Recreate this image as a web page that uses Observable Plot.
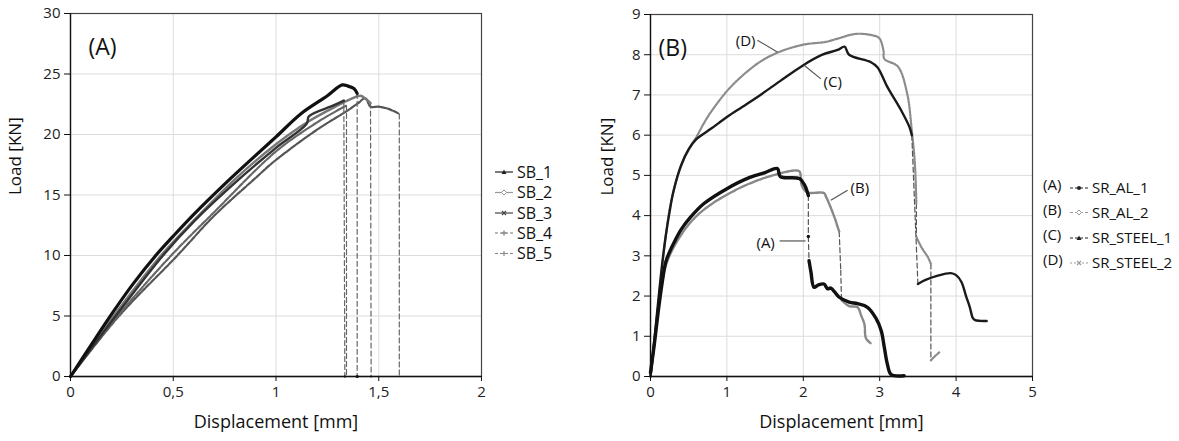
<!DOCTYPE html>
<html><head><meta charset="utf-8">
<script src="https://cdn.jsdelivr.net/npm/d3@7"></script>
<script src="https://cdn.jsdelivr.net/npm/@observablehq/plot@0.6"></script>
<style>
body{margin:0;background:#fff;font-family:"Open Sans",sans-serif;}
#wrap{position:relative;width:1179px;height:441px;overflow:hidden;background:#fff}
.panel{position:absolute;top:0}
#leg{position:absolute;left:0;top:0}
</style></head><body><div id="wrap"></div>
<script>
// ---------- Panel A data: [displacement mm, load kN, jump flag] ----------
const sbNames = ["SB_1","SB_2","SB_3","SB_4","SB_5"];
const sb1 = [[0,0],[0.1,2.6],[0.2,5.15],[0.3,7.55],[0.42,10.1],[0.5,11.6],[0.6,13.4],[0.75,15.9],[0.877,17.9],[1.0,19.8],[1.12,21.7],[1.25,23.2],[1.322,24.1],[1.35,24.0],[1.379,23.8],[1.395,23.4],[1.395,0,1]];
const sb2 = [[0,0],[0.21,5],[0.44,10],[0.6,12.9],[0.8,16.3],[1.0,19.2],[1.15,21.0],[1.3,22.4],[1.36,22.9],[1.411,23.2],[1.44,22.9],[1.46,22.6],[1.463,0,1]];
const sb3 = [[0,0],[0.22,5],[0.45,10],[0.6,12.8],[0.8,16.0],[1.0,18.9],[1.15,20.9],[1.16,21.5],[1.28,22.4],[1.33,22.8],[1.335,0,1]];
const sb4 = [[0,0],[0.236,5],[0.52,10],[0.7,13.3],[0.9,16.4],[1.0,17.9],[1.2,20.4],[1.35,22.0],[1.4,22.6],[1.435,23.0],[1.46,22.3],[1.5,22.3],[1.55,22.1],[1.6,21.7],[1.6,0,1]];
const sb5 = [[0,0],[0.23,5],[0.49,10],[0.7,13.6],[1.0,18.6],[1.2,21.0],[1.3,22.0],[1.343,22.4],[1.343,0,1]];
const xTicksA = [0,0.5,1,1.5,2];
const yTicksA = [0,5,10,15,20,25,30];

// ---------- Panel B data ----------
const srNames = ["SR_AL_1","SR_AL_2","SR_STEEL_1","SR_STEEL_2"];
const srTags = ["(A)","(B)","(C)","(D)"];
const srAl1 = [[0,0.1],[0.05,0.8],[0.1,1.6],[0.15,2.3],[0.2,2.85],[0.25,3.1],[0.3,3.3],[0.4,3.65],[0.524,3.96],[0.7,4.3],[1.0,4.67],[1.3,4.95],[1.5,5.07],[1.66,5.17],[1.7,4.97],[1.95,4.92],[2.02,4.75],[2.066,4.5],[2.066,3.48,1],[2.075,2.88,1],[2.1,2.6],[2.14,2.22],[2.2,2.28],[2.27,2.3],[2.32,2.18],[2.36,2.2],[2.47,1.97],[2.6,1.85],[2.71,1.81],[2.84,1.72],[2.95,1.45],[3.02,1.14],[3.06,0.73],[3.1,0.31],[3.15,0.05],[3.32,0.02]];
const srAl2 = [[0,0],[0.05,0.8],[0.1,1.6],[0.15,2.3],[0.2,2.75],[0.3,3.2],[0.5,3.78],[0.7,4.15],[1.0,4.52],[1.3,4.8],[1.6,5.0],[1.88,5.12],[1.95,5.1],[1.98,4.75],[2.05,4.58],[2.27,4.56],[2.3,4.46],[2.4,4.0],[2.47,3.6],[2.49,2.64,1],[2.5,1.9,1],[2.6,1.75],[2.71,1.72],[2.76,1.5],[2.8,1.3],[2.82,0.95],[2.88,0.83]];
const srSt1 = [[0,0],[0.05,0.9],[0.1,1.85],[0.15,2.75],[0.2,3.5],[0.25,4.1],[0.3,4.6],[0.4,5.25],[0.5,5.65],[0.6,5.9],[0.8,6.17],[1.0,6.45],[1.2,6.7],[1.4,6.95],[1.7,7.35],[2.0,7.74],[2.25,8.0],[2.45,8.12],[2.54,8.2],[2.6,8.0],[2.88,7.82],[2.97,7.69],[3.1,7.2],[3.28,6.62],[3.39,6.2],[3.42,6.0],[3.5,2.3,1],[3.6,2.4],[3.75,2.5],[3.93,2.57],[4.0,2.52],[4.07,2.35],[4.13,2.0],[4.18,1.72],[4.22,1.45],[4.25,1.4],[4.4,1.38]];
const srSt2 = [[0,0],[0.05,0.8],[0.1,1.75],[0.15,2.7],[0.2,3.5],[0.26,4.25],[0.35,4.95],[0.45,5.45],[0.55,5.8],[0.6,5.95],[0.7,6.3],[0.8,6.6],[1.05,7.2],[1.4,7.78],[1.66,8.05],[2.0,8.25],[2.3,8.32],[2.45,8.4],[2.7,8.52],[2.95,8.46],[3.0,8.4],[3.05,8.1],[3.06,7.9],[3.24,7.7],[3.36,7.03],[3.42,6.12],[3.46,5.3],[3.48,4.3],[3.48,3.47,1],[3.55,3.2],[3.63,2.97],[3.67,2.8],[3.67,0.4,1],[3.72,0.5],[3.78,0.6]];
const xTicksB = [0,1,2,3,4,5];
const yTicksB = [0,1,2,3,4,5,6,7,8,9];
// curve annotations in panel B: [text, x, y] and leader lines [x1,y1,x2,y2]
const annText = [["(D)",1.245,8.33],["(C)",2.385,7.31],["(B)",2.74,4.68],["(A)",1.507,3.31]];
const annLines = [[1.40,8.36,1.66,8.07],[2.01,7.74,2.23,7.40],[2.36,4.38,2.58,4.63],[1.69,3.37,2.03,3.37]];

const FONT = "'Open Sans', sans-serif";
const comma = d => String(d).replace(".", ",");

function split(name, pts){
  const solid = [], jumps = [];
  let seg = 0;
  pts.forEach((p,i) => {
    if (i > 0 && p[2]) {
      jumps.push({id:name+"j"+i, x:pts[i-1][0], y:pts[i-1][1]}, {id:name+"j"+i, x:p[0], y:p[1]});
      seg++;
    }
    solid.push({id:name+"s"+seg, x:p[0], y:p[1]});
  });
  return {solid, jumps};
}

function seriesMarks(name, pts, st){
  const {solid, jumps} = split(name, pts);
  return [
    Plot.line(jumps, {x:"x", y:"y", z:"id", stroke:st.jc || st.c, strokeWidth:1.2, strokeDasharray:"5,3"}),
    Plot.line(solid, {x:"x", y:"y", z:"id", curve:"catmull-rom", stroke:st.c, strokeWidth:st.w, strokeDasharray:st.d || null, strokeLinejoin:"round"})
  ];
}

function basePanel(opts){
  return Plot.plot({
    width: opts.width, height: 441,
    marginLeft: opts.ml, marginRight: opts.mr, marginTop: opts.mt, marginBottom: 65,
    style: {fontFamily: FONT, fontSize: "15px", color: "#222", background: "#fff"},
    x: {domain: opts.xd, ticks: opts.xt},
    y: {domain: opts.yd, ticks: opts.yt},
    marks: [
      Plot.gridX(opts.xt, {stroke:"#dcdcdc", strokeOpacity:1}),
      Plot.gridY(opts.yt, {stroke:"#dcdcdc", strokeOpacity:1}),
      Plot.frame({stroke:"#444", strokeWidth:1.2}),
      ...opts.marks,
      Plot.ruleX([opts.xd[0]], {stroke:"#111", strokeWidth:1.3}),
      Plot.ruleY([opts.yd[0]], {stroke:"#111", strokeWidth:1.3}),
      Plot.axisX(opts.xt, {tickFormat: opts.xf, tickSize:5, tickPadding:5, fontSize:15, label:null, stroke:"#111"}),
      Plot.axisY(opts.yt, {tickSize:6, tickPadding:4, fontSize:15, label:null, stroke:"#111"}),
      Plot.text([opts.tag], {frameAnchor:"top-left", dx:opts.tagDx, dy:25, textAnchor:"start", fontSize:23, fill:"#111"}),
      Plot.text(["Load [KN]"], {frameAnchor:"left", dx:opts.ylDx, rotate:-90, fontSize:17, fill:"#111"}),
      Plot.text(["Displacement [mm]"], {frameAnchor:"bottom", dy:51, fontSize:18, fill:"#111"})
    ]
  });
}

const wrap = document.getElementById("wrap");

// Panel A
const stA = [
  {c:"#111", w:3.2},
  {c:"#777", w:2.4},
  {c:"#333", w:2.4},
  {c:"#555", w:2.2, d:"5,1.5"},
  {c:"#666", w:2.2, d:"5,1.5"}
];
const sbData = [sb1, sb2, sb3, sb4, sb5];
const marksA = [];
[3,4,1,2,0].forEach(i => marksA.push(...seriesMarks(sbNames[i], sbData[i], {...stA[i], jc:"#666"})));
const pA = basePanel({width:500, ml:70, mr:19, mt:13, xd:[0,2], yd:[0,30], xt:xTicksA, yt:yTicksA, xf:comma, marks:marksA, tag:"(A)", tagDx:18, ylDx:-55});
pA.classList.add("panel"); pA.style.left = "0px";
wrap.appendChild(pA);

// Panel B
const stB = [
  {c:"#111", w:3.4},
  {c:"#888", w:2.4, d:"4,1.2"},
  {c:"#1a1a1a", w:2.4},
  {c:"#8c8c8c", w:2.2, d:"2,1.2"}
];
const srData = [srAl1, srAl2, srSt1, srSt2];
const marksB = [];
[3,1,2,0].forEach(i => marksB.push(...seriesMarks(srNames[i], srData[i], {...stB[i], jc:"#555"})));
marksB.push(
  Plot.link(annLines, {x1:d=>d[0], y1:d=>d[1], x2:d=>d[2], y2:d=>d[3], stroke:"#555", strokeWidth:1.2}),
  Plot.text(annText, {x:d=>d[1], y:d=>d[2], text:d=>d[0], fontSize:15, fill:"#111"})
);
const pB = basePanel({width:500, ml:90, mr:28, mt:14, xd:[0,5], yd:[0,9], xt:xTicksB, yt:yTicksB, xf:d=>String(d), marks:marksB, tag:"(B)", tagDx:8, ylDx:-43});
pB.classList.add("panel"); pB.style.left = "560px";
wrap.appendChild(pB);

// Legends
const leg = d3.select(wrap).append("svg").attr("id","leg").attr("width",1179).attr("height",441)
  .style("pointer-events","none").style("font-family", FONT);

function sample(g, x0, y, st, marker){
  g.append("line").attr("x1",x0).attr("x2",x0+18).attr("y1",y).attr("y2",y)
    .attr("stroke",st.c).attr("stroke-width",1.2).attr("stroke-dasharray",st.ld || null);
  const cx = x0+9;
  if (marker==="tri") g.append("path").attr("d",`M${cx-2.5},${y+2} L${cx+2.5},${y+2} L${cx},${y-2.5} Z`).attr("fill",st.c);
  if (marker==="dot") g.append("circle").attr("cx",cx).attr("cy",y).attr("r",2).attr("fill",st.c);
  if (marker==="dia") g.append("path").attr("d",`M${cx},${y-2.5} L${cx+2.5},${y} L${cx},${y+2.5} L${cx-2.5},${y} Z`).attr("fill","#fff").attr("stroke",st.c);
  if (marker==="x") g.append("path").attr("d",`M${cx-2},${y-2} L${cx+2},${y+2} M${cx-2},${y+2} L${cx+2},${y-2}`).attr("stroke",st.c).attr("stroke-width",1.2);
  if (marker==="plus") g.append("path").attr("d",`M${cx-2.5},${y} L${cx+2.5},${y} M${cx},${y-2.5} L${cx},${y+2.5}`).attr("stroke",st.c).attr("stroke-width",1.2);
}

const legA = [
  {c:"#222", m:"tri"}, {c:"#999", m:"dia"}, {c:"#444", m:"x"}, {c:"#777", m:"plus", ld:"3,2"}, {c:"#888", m:"plus", ld:"3,2"}
];
const legAy = [172, 192.5, 213, 233, 253.5];
sbNames.forEach((n,i) => {
  sample(leg, 495, legAy[i], legA[i], legA[i].m);
  leg.append("text").attr("x",517).attr("y",legAy[i]).attr("dy","0.35em").attr("font-size",16).attr("fill","#111").text(n);
});

const legB = [
  {c:"#222", m:"dot", ld:"3,2"}, {c:"#999", m:"dia", ld:"3,2"}, {c:"#222", m:"tri", ld:"3,2"}, {c:"#999", m:"x", ld:"2,2"}
];
const legBy = [188, 212.5, 238, 263];
srNames.forEach((n,i) => {
  leg.append("text").attr("x",1043).attr("y",legBy[i]-3).attr("dy","0.35em").attr("font-size",15).attr("fill","#111").text(srTags[i]);
  sample(leg, 1070, legBy[i], legB[i], legB[i].m);
  leg.append("text").attr("x",1092).attr("y",legBy[i]).attr("dy","0.35em").attr("font-size",15).attr("fill","#111").text(n);
});
</script>
</body></html>
